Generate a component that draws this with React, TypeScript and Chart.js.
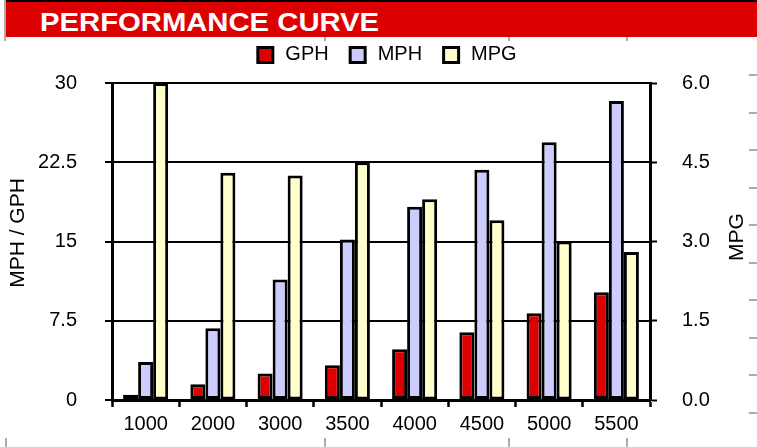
import React, { useEffect, useRef } from 'react';
import { Chart, registerables } from 'chart.js';

Chart.register(...registerables);

const FONT = "'Liberation Sans', Arial, Helvetica, sans-serif";

const chartTitle = 'PERFORMANCE CURVE';
const categories = ['1000', '2000', '3000', '3500', '4000', '4500', '5000', '5500'];
const gphValues = [0.5, 1.5, 2.5, 3.3, 4.8, 6.4, 8.2, 10.2];
const mphValues = [3.6, 6.8, 11.4, 15.2, 18.3, 21.8, 24.4, 28.3];
const mpgValues = [6.0, 4.3, 4.25, 4.5, 3.8, 3.4, 3.0, 2.8];
const leftTicks = [0, 7.5, 15, 22.5, 30];
const rightTicks = [0, 1.5, 3, 4.5, 6];
const leftTitle = 'MPH / GPH';
const rightTitle = 'MPG';

const RED = '#DD0000';
const BLUE = '#CCCCFF';
const YELLOW = '#FFFFCC';
const GRAY = '#ababab';

const decorPlugin = {
  id: 'decor',
  afterDraw(chart: any) {
    const ctx = chart.ctx as CanvasRenderingContext2D;
    ctx.save();
    ctx.font = `20px ${FONT}`;
    const items = chart.data.datasets.map((d: any) => ({ label: d.label, color: d.backgroundColor }));
    const box = 18, gap = 11, spacing = 20;
    const widths = items.map((it: any) => ctx.measureText(it.label).width);
    const total = widths.reduce((a: number, b: number) => a + b, 0) + items.length * (box + gap) + (items.length - 1) * spacing;
    let x = 386.5 - total / 2;
    items.forEach((it: any, i: number) => {
      ctx.fillStyle = '#000';
      ctx.fillRect(x, 46, box, box);
      ctx.fillStyle = it.color;
      ctx.fillRect(x + 3, 49, box - 6, box - 6);
      ctx.fillStyle = '#000';
      ctx.textAlign = 'left';
      ctx.textBaseline = 'alphabetic';
      ctx.fillText(it.label, x + box + gap, 60);
      x += box + gap + widths[i] + spacing;
    });
    const drawV = (text: string, cx: number, cy: number) => {
      ctx.save();
      ctx.translate(cx, cy);
      ctx.rotate(-Math.PI / 2);
      ctx.textAlign = 'center';
      ctx.textBaseline = 'middle';
      ctx.fillStyle = '#000';
      ctx.fillText(text, 0, 0);
      ctx.restore();
    };
    ctx.font = `21px ${FONT}`;
    drawV(leftTitle, 18, 233);
    drawV(rightTitle, 737, 237);
    ctx.restore();
  },
};

export default function App() {
  const ref = useRef<HTMLCanvasElement>(null);
  useEffect(() => {
    const barCommon = {
      borderColor: '#000',
      borderWidth: 3,
      borderSkipped: false,
      categoryPercentage: 0.67,
      barPercentage: 1.0,
    };
    const chart = new Chart(ref.current as HTMLCanvasElement, {
      type: 'bar',
      data: {
        labels: categories,
        datasets: [
          { label: 'GPH', data: gphValues, backgroundColor: RED, yAxisID: 'y', ...barCommon },
          { label: 'MPH', data: mphValues, backgroundColor: BLUE, yAxisID: 'y', ...barCommon },
          { label: 'MPG', data: mpgValues, backgroundColor: YELLOW, yAxisID: 'y1', ...barCommon },
        ],
      },
      options: {
        responsive: false,
        animation: false,
        devicePixelRatio: 1,
        layout: { padding: { top: 83, left: 0, right: 0, bottom: 0 } },
        plugins: {
          legend: { display: false },
          tooltip: { enabled: false },
          title: { display: false },
        },
        scales: {
          x: {
            offset: true,
            grid: {
              offset: true,
              drawOnChartArea: false,
              drawTicks: true,
              tickLength: 7,
              tickColor: '#000',
              tickWidth: 2.5,
            },
            border: { display: true, color: '#000', width: 3 },
            ticks: { color: '#000', font: { family: FONT, size: 20 }, padding: 5, maxRotation: 0, autoSkip: false },
            afterFit: (s: any) => { s.height = 47; },
          },
          y: {
            position: 'left',
            min: 0,
            max: 30,
            afterBuildTicks: (s: any) => { s.ticks = leftTicks.map((v) => ({ value: v })); },
            grid: {
              color: '#000',
              lineWidth: 2,
              drawTicks: true,
              tickLength: 7,
              tickColor: '#000',
              tickWidth: 2,
            },
            border: { display: true, color: '#000', width: 3 },
            ticks: { color: '#000', font: { family: FONT, size: 20 }, padding: 28 },
            afterFit: (s: any) => { s.width = 112; },
          },
          y1: {
            position: 'right',
            min: 0,
            max: 6,
            afterBuildTicks: (s: any) => { s.ticks = rightTicks.map((v) => ({ value: v })); },
            grid: {
              drawOnChartArea: false,
              drawTicks: true,
              tickLength: 7,
              tickColor: '#000',
              tickWidth: 2,
              color: '#000',
            },
            border: { display: true, color: '#000', width: 3 },
            ticks: {
              color: '#000',
              font: { family: FONT, size: 20 },
              padding: 25,
              callback: (v: any) => Number(v).toFixed(1),
            },
            afterFit: (s: any) => { s.width = 107; },
          },
        },
      },
      plugins: [decorPlugin],
    } as any);
    return () => chart.destroy();
  }, []);

  const bottomMarks = [5, 324, 508, 626];
  const topMarks = [324, 508, 626];
  const rightMarks = [75, 112.5, 150, 187.5, 225, 262.5, 300, 337.5, 375, 412.5];

  return (
    <div style={{ position: 'absolute', left: 0, top: 0, width: 757, height: 447, background: '#fff', overflow: 'hidden' }}>
      <canvas ref={ref} width={757} height={447} style={{ position: 'absolute', left: 0, top: 0, width: 757, height: 447 }} />
      <div style={{ position: 'absolute', left: 6, top: 0, width: 751, height: 37, background: RED }} />
      <div style={{ position: 'absolute', left: 6, top: 0, width: 751, height: 1.5, background: '#000' }} />
      <div style={{ position: 'absolute', left: 4, top: 0, width: 2, height: 41, background: GRAY }} />
      {topMarks.map((x) => (
        <div key={'t' + x} style={{ position: 'absolute', left: x, top: 37, width: 2, height: 4, background: GRAY }} />
      ))}
      {bottomMarks.map((x) => (
        <div key={'b' + x} style={{ position: 'absolute', left: x, top: 438, width: 2, height: 9, background: GRAY }} />
      ))}
      {rightMarks.map((y) => (
        <div key={'r' + y} style={{ position: 'absolute', left: 749, top: y - 1, width: 8, height: 2, background: GRAY }} />
      ))}
      <div
        style={{
          position: 'absolute',
          left: 40,
          top: 10,
          fontFamily: FONT,
          fontWeight: 'bold',
          fontSize: 25,
          lineHeight: '24px',
          color: '#fff',
          whiteSpace: 'nowrap',
          transform: 'scaleX(1.17)',
          transformOrigin: 'left center',
        }}
      >
        {chartTitle}
      </div>
    </div>
  );
}
